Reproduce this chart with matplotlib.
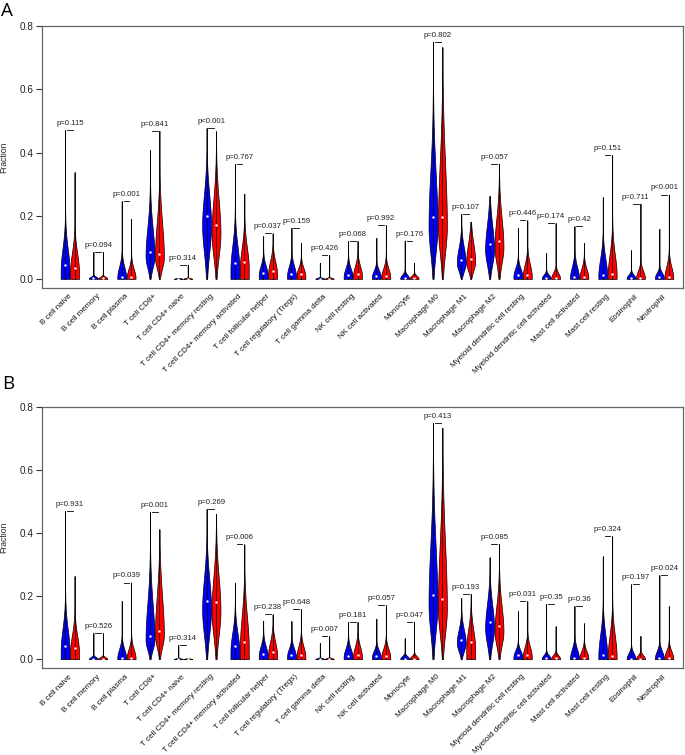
import numpy as np
import matplotlib
matplotlib.use("Agg")
import matplotlib.pyplot as plt

plt.rcParams['font.family'] = ['Liberation Sans', 'DejaVu Sans']

cells = ["B cell naive", "B cell memory", "B cell plasma", "T cell CD8+", "T cell CD4+ naive",
         "T cell CD4+ memory resting", "T cell CD4+ memory activated", "T cell follicular helper",
         "T cell regulatory (Tregs)", "T cell gamma delta", "NK cell resting", "NK cell activated",
         "Monocyte", "Macrophage M0", "Macrophage M1", "Macrophage M2",
         "Myeloid dendritic cell resting", "Myeloid dendritic cell activated",
         "Mast cell activated", "Mast cell resting", "Eosinophil", "Neutrophil"]

# ---- Panel A ----
A_blue_max = [0.471, 0.085, 0.246, 0.408, 0.003, 0.478, 0.364, 0.135, 0.162, 0.051, 0.120,
              0.130, 0.121, 0.751, 0.206, 0.262, 0.162, 0.082, 0.167, 0.259, 0.090, 0.158]
A_red_max = [0.338, 0.085, 0.190, 0.469, 0.045, 0.467, 0.270, 0.144, 0.114, 0.075, 0.120,
             0.170, 0.051, 0.734, 0.181, 0.365, 0.185, 0.176, 0.114, 0.392, 0.238, 0.267]
A_blue_med = [0.043, 0.003, 0.006, 0.084, 0.000, 0.199, 0.049, 0.019, 0.015, 0.001, 0.011,
              0.010, 0.003, 0.196, 0.059, 0.109, 0.013, 0.003, 0.005, 0.012, 0.003, 0.005]
A_red_med = [0.036, 0.003, 0.005, 0.080, 0.000, 0.170, 0.055, 0.025, 0.015, 0.001, 0.015,
             0.010, 0.003, 0.196, 0.063, 0.119, 0.013, 0.003, 0.005, 0.017, 0.003, 0.005]
A_blue_body = [0.14, 0.010, 0.06, 0.22, 0.003, 0.33, 0.15, 0.06, 0.06, 0.005, 0.05,
               0.04, 0.02, 0.45, 0.13, 0.22, 0.05, 0.02, 0.06, 0.10, 0.02, 0.03]
A_red_body = [0.12, 0.010, 0.05, 0.25, 0.004, 0.32, 0.14, 0.08, 0.05, 0.005, 0.06,
              0.05, 0.015, 0.50, 0.15, 0.25, 0.07, 0.03, 0.05, 0.12, 0.04, 0.06]
A_p = ["p=0.115", "p=0.094", "p=0.001", "p=0.841", "p=0.314", "p<0.001", "p=0.767", "p=0.037",
       "p=0.159", "p=0.426", "p=0.068", "p=0.992", "p=0.176", "p=0.802", "p=0.107", "p=0.057",
       "p=0.446", "p=0.174", "p=0.42", "p=0.151", "p=0.711", "p<0.001"]

# ---- Panel B ----
B_blue_max = [0.470, 0.082, 0.185, 0.467, 0.045, 0.477, 0.243, 0.122, 0.121, 0.051, 0.118,
              0.129, 0.066, 0.750, 0.194, 0.323, 0.152, 0.175, 0.169, 0.326, 0.237, 0.266]
B_red_max = [0.264, 0.082, 0.243, 0.412, 0.003, 0.461, 0.364, 0.142, 0.160, 0.073, 0.118,
             0.171, 0.119, 0.734, 0.207, 0.366, 0.184, 0.104, 0.114, 0.391, 0.074, 0.168]
B_blue_med = [0.041, 0.002, 0.005, 0.072, 0.000, 0.185, 0.041, 0.017, 0.012, 0.001, 0.011,
              0.010, 0.002, 0.205, 0.061, 0.117, 0.012, 0.003, 0.005, 0.014, 0.002, 0.005]
B_red_med = [0.035, 0.002, 0.005, 0.091, 0.000, 0.180, 0.056, 0.023, 0.012, 0.001, 0.012,
             0.010, 0.002, 0.190, 0.056, 0.104, 0.013, 0.003, 0.005, 0.010, 0.002, 0.005]
B_blue_body = [0.14, 0.010, 0.05, 0.25, 0.004, 0.32, 0.12, 0.06, 0.05, 0.005, 0.05,
               0.04, 0.015, 0.48, 0.12, 0.22, 0.04, 0.02, 0.05, 0.12, 0.03, 0.04]
B_red_body = [0.11, 0.010, 0.05, 0.28, 0.003, 0.33, 0.20, 0.08, 0.06, 0.005, 0.06,
              0.05, 0.015, 0.50, 0.13, 0.22, 0.06, 0.02, 0.04, 0.12, 0.02, 0.04]
B_p = ["p=0.931", "p=0.526", "p=0.039", "p=0.001", "p=0.314", "p=0.269", "p=0.006", "p=0.238",
       "p=0.648", "p=0.007", "p=0.181", "p=0.057", "p=0.047", "p=0.413", "p=0.193", "p=0.085",
       "p=0.031", "p=0.35", "p=0.36", "p=0.324", "p=0.197", "p=0.024"]

HALF_W = 0.47


def violin(ax, x, vmax, med, body, color):
    lo, hi = 0.0, vmax
    y = np.linspace(lo, hi, 300)
    if med > 0.058:
        mode = med * 0.85
        s_lo = mode * 0.5
    else:
        mode = med * 0.6
        s_lo = 1.0
    s_hi = max((body - mode) / 1.67, 0.0015)
    w = np.where(y < mode,
                 np.exp(-0.5 * ((y - mode) / s_lo) ** 2),
                 np.exp(-0.5 * ((y - mode) / s_hi) ** 2))
    w = w / w.max() * HALF_W
    ax.fill_betweenx(y, x - w, x + w, facecolor=color, edgecolor='black', lw=0.5, zorder=2)
    ax.plot([x, x], [lo, hi], color='black', lw=0.5, zorder=3)
    ax.scatter([x], [med], s=3, color='white', zorder=4, linewidths=0)


def panel(ax, bmax, rmax, bmed, rmed, bbody, rbody, plabels):
    for i in range(len(cells)):
        xb = 3 * i
        xr = 3 * i + 1
        violin(ax, xb, bmax[i], bmed[i], bbody[i], '#0000FF')
        violin(ax, xr, rmax[i], rmed[i], rbody[i], '#FF0000')
        mx = max(bmax[i], rmax[i])
        ax.plot([xb + 0.2, xb + 0.8], [mx, mx], color='black', lw=0.6, zorder=3)
        ax.text(xb + 0.5, mx + 0.021, plabels[i], ha='center', va='center',
                fontsize=5.6, color='#222222')
        ax.text(xb + 0.6, -0.028, cells[i], transform=ax.get_xaxis_transform(),
                ha='right', va='center', rotation=45, rotation_mode='anchor',
                fontsize=5.8, color='#111111')
    ax.set_xlim(-2.45, 65.5)
    ax.set_ylim(-0.029, 0.801)
    ax.set_xticks([])
    ax.set_yticks([0.0, 0.2, 0.4, 0.6, 0.8])
    ax.set_yticklabels(["0.0", "0.2", "0.4", "0.6", "0.8"])
    ax.tick_params(axis='y', labelsize=7.2, length=4, width=0.8, pad=2,
                   colors='#333333', labelcolor='#222222')
    ax.set_ylabel("Fraction", fontsize=6.2, color='#222222')
    ax.yaxis.set_label_coords(-0.053, 0.5)
    for s in ax.spines.values():
        s.set_color('#666666')
        s.set_linewidth(0.9)


fig = plt.figure(figsize=(6.85, 7.55), dpi=100)
axA = fig.add_axes([0.0613, 0.6185, 0.9357, 0.3471])
axB = fig.add_axes([0.0613, 0.1148, 0.9357, 0.3465])
panel(axA, A_blue_max, A_red_max, A_blue_med, A_red_med, A_blue_body, A_red_body, A_p)
panel(axB, B_blue_max, B_red_max, B_blue_med, B_red_med, B_blue_body, B_red_body, B_p)

fig.text(0.002, 0.998, "A", ha='left', va='top', fontsize=13.5, family='Open Sans')
fig.text(0.003, 0.503, "B", ha='left', va='top', fontsize=13.5, family='Open Sans')

fig.savefig("out.png", dpi=100)
